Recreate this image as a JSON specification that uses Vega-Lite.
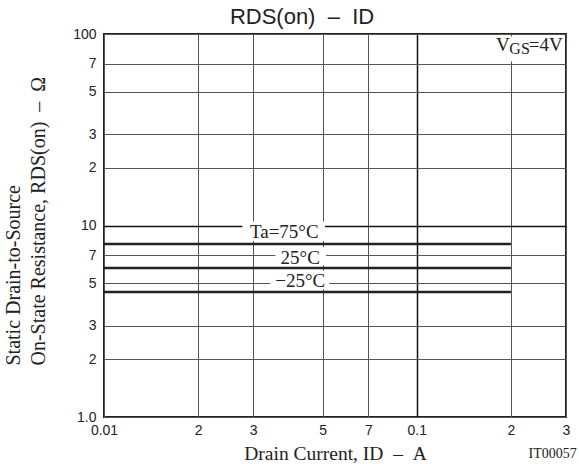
{
  "$schema": "https://vega.github.io/schema/vega-lite/v6.json",
  "width": 462,
  "height": 383,
  "autosize": {"type": "none"},
  "padding": {"left": 104, "top": 34, "right": 13, "bottom": 51},
  "background": "white",
  "config": {
    "view": {"stroke": "#222", "strokeWidth": 2},
    "axis": {"labelFont": "Liberation Sans", "labelFontSize": 14, "labelColor": "#222", "titleFont": "Liberation Serif", "titleFontWeight": "normal", "titleColor": "#222", "ticks": false, "domain": false}
  },
  "title": {"text": "RDS(on)\u00a0\u00a0–\u00a0\u00a0ID", "font": "Liberation Sans", "fontSize": 22, "fontWeight": "normal", "color": "#222", "anchor": "middle", "dx": -33, "offset": -24, "baseline": "bottom"},
  "layer": [
    {
      "data": {"values": [
        {"x1": 0.0277, "x2": 0.0509, "y1": 8.3, "y2": 10.5},
        {"x1": 0.0353, "x2": 0.0513, "y1": 6.2, "y2": 7.7},
        {"x1": 0.034, "x2": 0.0525, "y1": 4.65, "y2": 5.8},
        {"x1": 0.18, "x2": 0.295, "y1": 72, "y2": 97}
      ]},
      "mark": {"type": "rect", "fill": "white", "stroke": null},
      "encoding": {
        "x": {"field": "x1", "type": "quantitative", "scale": {"type": "log", "domain": [0.01, 0.3], "nice": false},
          "axis": {"values": [0.01, 0.02, 0.03, 0.05, 0.07, 0.1, 0.2, 0.3], "grid": true,
            "gridColor": {"condition": {"test": "datum.value == 0.1", "value": "#111"}, "value": "#555"},
            "gridWidth": {"condition": {"test": "datum.value == 0.1", "value": 1.5}, "value": 1},
            "labelExpr": "datum.value == 0.01 ? '0.01' : datum.value == 0.1 ? '0.1' : datum.value < 0.1 ? format(datum.value * 100, '.0f') : format(datum.value * 10, '.0f')",
            "labelPadding": 6, "labelFlush": false,
            "encode": {"labels": {"update": {"dy": {"signal": "(datum.value == 0.01 || datum.value == 0.1) ? 5 : 0"}}}},
            "title": "Drain Current, ID\u00a0\u00a0–\u00a0\u00a0A", "titleFontSize": 19.5, "titlePadding": 7}},
        "x2": {"field": "x2"},
        "y": {"field": "y1", "type": "quantitative", "scale": {"type": "log", "domain": [1, 100], "nice": false},
          "axis": {"values": [1, 2, 3, 5, 7, 10, 20, 30, 50, 70, 100], "grid": true,
            "gridColor": {"condition": {"test": "datum.value == 10", "value": "#111"}, "value": "#555"},
            "gridWidth": {"condition": {"test": "datum.value == 10", "value": 1.5}, "value": 1},
            "labelExpr": "datum.value == 1 ? '1.0' : datum.value == 100 ? '100' : datum.value == 10 ? '10' : datum.value > 10 ? format(datum.value / 10, '.0f') : format(datum.value, '.0f')",
            "labelPadding": 8, "labelFlush": false,
            "encode": {"labels": {"update": {"dx": {"signal": "(datum.value == 1 || datum.value == 100) ? -3 : 0"}, "dy": {"signal": "datum.value == 1 ? -5 : 0"}}}},
            "title": ["Static Drain-to-Source", "On-State Resistance, RDS(on)\u00a0\u00a0–\u00a0\u00a0Ω"],
            "titleFontSize": 20, "titleLineHeight": 25, "titleAlign": "left", "titleBaseline": "alphabetic", "titleX": -85, "titleY": 331}},
        "y2": {"field": "y2"}
      }
    },
    {
      "data": {"values": [
        {"temp": "75", "x1": 0.01, "x2": 0.2, "r": 8.0},
        {"temp": "25", "x1": 0.01, "x2": 0.2, "r": 6.0},
        {"temp": "-25", "x1": 0.01, "x2": 0.2, "r": 4.5}
      ]},
      "mark": {"type": "rule", "color": "#222", "strokeWidth": 2.5},
      "encoding": {
        "x": {"field": "x1", "type": "quantitative"},
        "x2": {"field": "x2"},
        "y": {"field": "r", "type": "quantitative"}
      }
    },
    {
      "data": {"values": [
        {"label": "Ta=75°C", "x": 0.0377, "y": 9.25},
        {"label": "25°C", "x": 0.0424, "y": 6.77},
        {"label": "−25°C", "x": 0.0424, "y": 5.13}
      ]},
      "mark": {"type": "text", "font": "Liberation Serif", "fontSize": 19, "color": "#222", "align": "center", "baseline": "middle"},
      "encoding": {
        "x": {"field": "x", "type": "quantitative"},
        "y": {"field": "y", "type": "quantitative"},
        "text": {"field": "label"}
      }
    },
    {
      "data": {"values": [{"label": "=4V", "x": 0.293, "y": 88}]},
      "mark": {"type": "text", "font": "Liberation Serif", "fontSize": 19, "color": "#222", "align": "right", "baseline": "middle"},
      "encoding": {
        "x": {"field": "x", "type": "quantitative"},
        "y": {"field": "y", "type": "quantitative"},
        "text": {"field": "label"}
      }
    },
    {
      "data": {"values": [{"label": "GS", "x": 0.293, "y": 88}]},
      "mark": {"type": "text", "font": "Liberation Serif", "fontSize": 16, "color": "#222", "align": "right", "baseline": "middle", "dx": -33, "dy": 4},
      "encoding": {
        "x": {"field": "x", "type": "quantitative"},
        "y": {"field": "y", "type": "quantitative"},
        "text": {"field": "label"}
      }
    },
    {
      "data": {"values": [{"label": "V", "x": 0.293, "y": 88}]},
      "mark": {"type": "text", "font": "Liberation Serif", "fontSize": 19, "color": "#222", "align": "right", "baseline": "middle", "dx": -53},
      "encoding": {
        "x": {"field": "x", "type": "quantitative"},
        "y": {"field": "y", "type": "quantitative"},
        "text": {"field": "label"}
      }
    },
    {
      "data": {"values": [{"label": "IT00057", "x": 0.272, "y": 0.61}]},
      "mark": {"type": "text", "font": "Liberation Serif", "fontSize": 14, "color": "#222", "align": "center", "baseline": "alphabetic", "clip": false},
      "encoding": {
        "x": {"field": "x", "type": "quantitative"},
        "y": {"field": "y", "type": "quantitative"},
        "text": {"field": "label"}
      }
    }
  ]
}
